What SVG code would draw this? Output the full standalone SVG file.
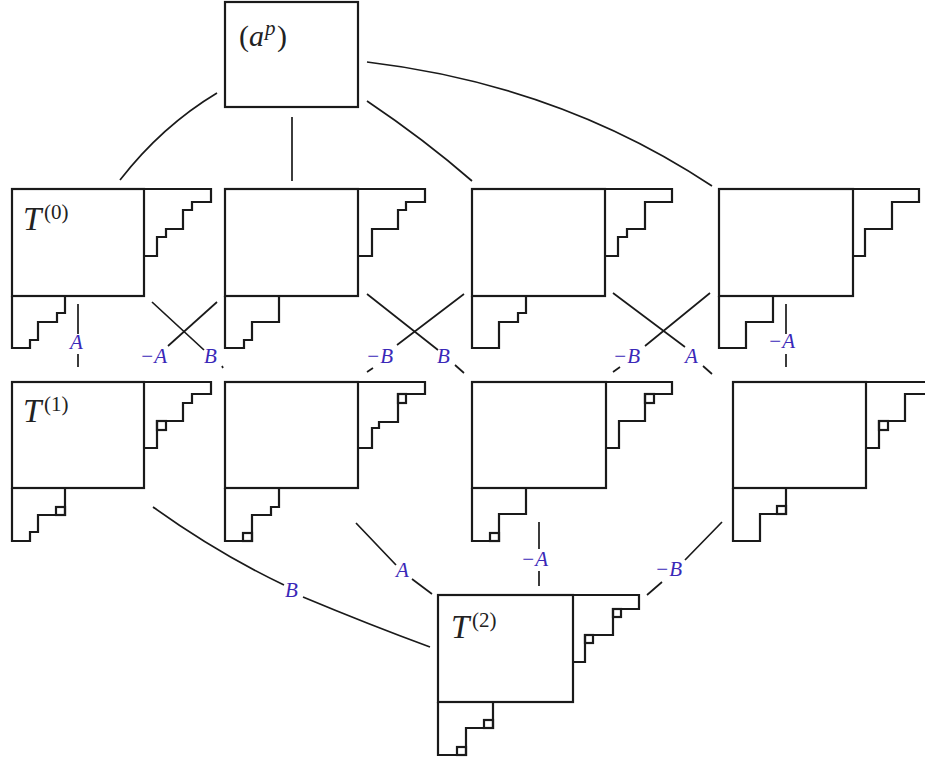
<svg xmlns="http://www.w3.org/2000/svg" width="925" height="760" viewBox="0 0 925 760">
<style>
.box{fill:none;stroke:#1a1a1a;stroke-width:2.2}
.st{fill:none;stroke:#1a1a1a;stroke-width:2.2;stroke-linejoin:miter}
.cell{fill:none;stroke:#1a1a1a;stroke-width:2.2}
.con{fill:none;stroke:#1a1a1a;stroke-width:1.7}
.lab{font-family:"Liberation Serif",serif;font-style:italic;font-size:21px;fill:#3a28b8}
.m{font-family:"Liberation Serif",serif;font-size:30px;fill:#222}
.mi{font-family:"Liberation Serif",serif;font-style:italic;font-size:30px;fill:#222}
.t{font-family:"Liberation Serif",serif;font-style:italic;font-size:33px;fill:#222}
.sup{font-family:"Liberation Serif",serif;font-size:21px;fill:#222}
.supi{font-family:"Liberation Serif",serif;font-style:italic;font-size:21px;fill:#222}
</style>
<rect width="925" height="760" fill="#fff"/>

<g id="connectors">
  <path class="con" d="M217,93 Q162,126 120,180"/>
  <path class="con" d="M292,117 V181"/>
  <path class="con" d="M367,101 Q425,140 472,181"/>
  <path class="con" d="M367,62 Q560,85 712,186"/>
  <path class="con" d="M78,304 V334 M78,354 V367"/>
  <path class="con" d="M152,302 L204,350 M222,366 L223,368"/>
  <path class="con" d="M217,302 L168,346"/>
  <path class="con" d="M367,294 L438,350 M455,365 L464,373"/>
  <path class="con" d="M464,294 L397,345 M367,372 L373,368"/>
  <path class="con" d="M613,293 L685,347 M703,366 L712,374"/>
  <path class="con" d="M710,293 L645,346 M613,372 L620,367"/>
  <path class="con" d="M786,304 V334 M786,354 V367"/>
  <path class="con" d="M153,507 Q217,553 284,585"/>
  <path class="con" d="M303,597 Q370,625 430,647"/>
  <path class="con" d="M356,523 L396,565 M412,579 L432,594"/>
  <path class="con" d="M539,522 V549 M539,571 V586"/>
  <path class="con" d="M722,522 L685,560 M662,582 L647,595"/>
  <text class="lab" x="70" y="349">A</text>
  <text class="lab" x="140" y="363">−A</text>
  <text class="lab" x="204" y="363">B</text>
  <text class="lab" x="366" y="363">−B</text>
  <text class="lab" x="437" y="363">B</text>
  <text class="lab" x="613" y="363">−B</text>
  <text class="lab" x="685" y="363">A</text>
  <text class="lab" x="768" y="348">−A</text>
  <text class="lab" x="285" y="597">B</text>
  <text class="lab" x="396" y="577">A</text>
  <text class="lab" x="521" y="566">−A</text>
  <text class="lab" x="655" y="576">−B</text>
</g>

<g id="top">
  <rect class="box" x="225" y="2" width="133" height="105"/>
  <text class="m" x="239" y="46">(</text>
  <text class="mi" x="249" y="46">a</text>
  <text class="supi" x="265" y="35">p</text>
  <text class="m" x="277" y="46">)</text>
</g>

<g id="n0">
  <rect class="box" x="12" y="189" width="132" height="107"/>
  <path class="st" d="M144,189 H211 V202 H192 V210 H183 V229 H166 V237 H157 V256 H144"/>
  <path class="st" d="M12,296 V348 H30 V340 H38 V322 H57 V313 H65 V296"/>
  <text class="t" x="23" y="230">T</text>
  <text class="sup" x="44" y="219">(0)</text>
</g>

<g id="n1">
  <rect class="box" x="225" y="189" width="133" height="107"/>
  <path class="st" d="M358,189 H425 V202 H406 V210 H398 V229 H372 V256 H358"/>
  <path class="st" d="M225,296 V348 H244 V340 H252 V322 H279 V296"/>
</g>

<g id="n2">
  <rect class="box" x="472" y="189" width="133" height="107"/>
  <path class="st" d="M605,189 H672 V202 H645 V229 H627 V237 H618 V256 H605"/>
  <path class="st" d="M472,296 V348 H499 V322 H518 V313 H526 V296"/>
</g>

<g id="n3">
  <rect class="box" x="719" y="189" width="134" height="107"/>
  <path class="st" d="M853,189 H919 V202 H892 V229 H865 V256 H853"/>
  <path class="st" d="M719,296 V348 H746 V322 H773 V296"/>
</g>

<g id="n4">
  <rect class="box" x="12" y="382" width="132" height="106"/>
  <path class="st" d="M144,382 H211 V394 H192 V403 H183 V421 H157 V448 H144"/>
  <rect class="cell" x="157" y="421" width="9" height="9"/>
  <path class="st" d="M12,488 V541 H30 V532 H38 V515 H65 V488"/>
  <rect class="cell" x="56" y="507" width="9" height="8"/>
  <text class="t" x="23" y="422">T</text>
  <text class="sup" x="44" y="411">(1)</text>
</g>

<g id="n5">
  <rect class="box" x="225" y="382" width="133" height="106"/>
  <path class="st" d="M358,382 H425 V394 H398 V422 H379 V428 H372 V448 H358"/>
  <rect class="cell" x="398" y="394" width="8" height="9"/>
  <path class="st" d="M225,488 V541 H252 V515 H271 V507 H279 V488"/>
  <rect class="cell" x="243" y="533" width="9" height="8"/>
</g>

<g id="n6">
  <rect class="box" x="472" y="382" width="134" height="106"/>
  <path class="st" d="M606,382 H672 V394 H645 V421 H619 V448 H606"/>
  <rect class="cell" x="645" y="394" width="9" height="9"/>
  <path class="st" d="M472,488 V541 H499 V514 H526 V488"/>
  <rect class="cell" x="490" y="533" width="9" height="8"/>
</g>

<g id="n7">
  <rect class="box" x="733" y="382" width="133" height="106"/>
  <path class="st" d="M866,382 H932 V394 H905 V421 H879 V448 H866"/>
  <rect class="cell" x="879" y="421" width="9" height="9"/>
  <path class="st" d="M733,488 V541 H760 V514 H786 V488"/>
  <rect class="cell" x="777" y="506" width="9" height="8"/>
</g>

<g id="n8">
  <rect class="box" x="438" y="595" width="135" height="107"/>
  <path class="st" d="M573,595 H639 V609 H613 V635 H585 V662 H573"/>
  <rect class="cell" x="613" y="609" width="8" height="8"/>
  <rect class="cell" x="585" y="635" width="8" height="8"/>
  <path class="st" d="M438,702 V755 H466 V728 H493 V702"/>
  <rect class="cell" x="457" y="747" width="9" height="8"/>
  <rect class="cell" x="484" y="720" width="9" height="8"/>
  <text class="t" x="451" y="638">T</text>
  <text class="sup" x="472" y="627">(2)</text>
</g>
</svg>
